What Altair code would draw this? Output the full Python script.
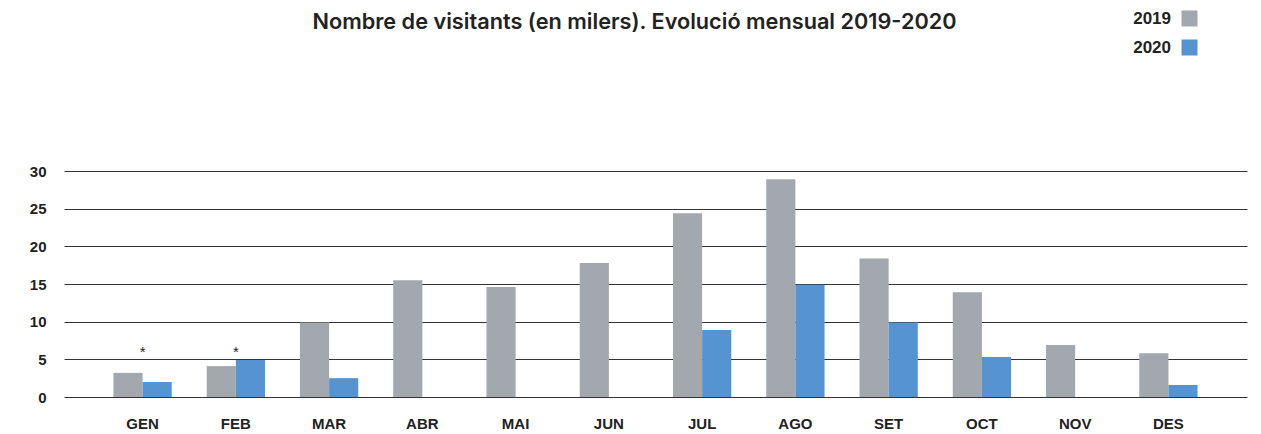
import altair as alt
import pandas as pd

months = ["GEN", "FEB", "MAR", "ABR", "MAI", "JUN", "JUL", "AGO", "SET", "OCT", "NOV", "DES"]
v2019 = [3.2, 4.1, 9.9, 15.5, 14.6, 17.8, 24.4, 28.9, 18.4, 13.9, 6.9, 5.8]
v2020 = [2.0, 4.9, 2.5, None, None, None, 8.9, 14.9, 9.9, 5.3, None, 1.6]
years = ["2019", "2020"]
colors = ["#a2a8ae", "#5694d1"]
note_months = ["GEN", "FEB"]
note_level = [6.0, 6.0]
y_ticks = [0, 5, 10, 15, 20, 25, 30]

rows = []
for m, a, b in zip(months, v2019, v2020):
    if a is not None:
        rows.append({"mes": m, "any": "2019", "valor": a})
    if b is not None:
        rows.append({"mes": m, "any": "2020", "valor": b})
df = pd.DataFrame(rows)
notes = pd.DataFrame({"mes": note_months, "valor": note_level, "txt": ["*"] * len(note_months)})

LABEL_FONT = "Liberation Sans"

x_enc = alt.X(
    "mes:N",
    sort=months,
    scale=alt.Scale(paddingInner=0.375, paddingOuter=0.53),
    axis=alt.Axis(title=None, labelAngle=0, labelPadding=19, grid=False),
)
y_enc = alt.Y(
    "valor:Q",
    scale=alt.Scale(domain=[0, 30], nice=False),
    axis=alt.Axis(title=None, values=y_ticks, grid=True, labelPadding=18, labelOverlap=False),
)

bars = alt.Chart(df).mark_bar().encode(
    x=x_enc,
    y=y_enc,
    xOffset=alt.XOffset("any:N", sort=years, scale=alt.Scale(paddingInner=0, paddingOuter=0)),
    color=alt.Color(
        "any:N",
        scale=alt.Scale(domain=years, range=colors),
        legend=alt.Legend(
            title=None,
            orient="none",
            legendX=1117,
            legendY=-161,
            symbolType="square",
            symbolSize=256,
            symbolStrokeWidth=0,
            symbolOpacity=1,
            labelAlign="right",
            labelOffset={"expr": "-27"},
            labelFont=LABEL_FONT,
            labelFontSize=17,
            labelFontWeight="bold",
            labelColor="#222222",
            rowPadding=11,
            padding=0,
        ),
    ),
)

stars = alt.Chart(notes).mark_text(fontSize=15, baseline="middle", color="#222222").encode(
    x=x_enc,
    y=y_enc,
    text="txt:N",
)

chart = (
    alt.layer(bars, stars)
    .properties(
        width=1183,
        height=226,
        padding={"left": 21, "top": 2, "right": 5, "bottom": 5},
        title=alt.TitleParams(
            "Nombre de visitants (en milers). Evolució mensual 2019-2020",
            anchor="middle",
            dx=-21,
            offset={"expr": "-24"},
            font="Inter",
            fontSize=21.7,
            fontWeight=600,
            color="#222222",
        ),
    )
    .configure_view(stroke=None)
    .configure_axis(
        domain=False,
        ticks=False,
        labelFont=LABEL_FONT,
        labelFontSize=15,
        labelFontWeight="bold",
        labelColor="#222222",
        gridColor="#333333",
        gridWidth=1,
    )
)

chart.save("out.html", embed_options={"renderer": "svg", "actions": False})
